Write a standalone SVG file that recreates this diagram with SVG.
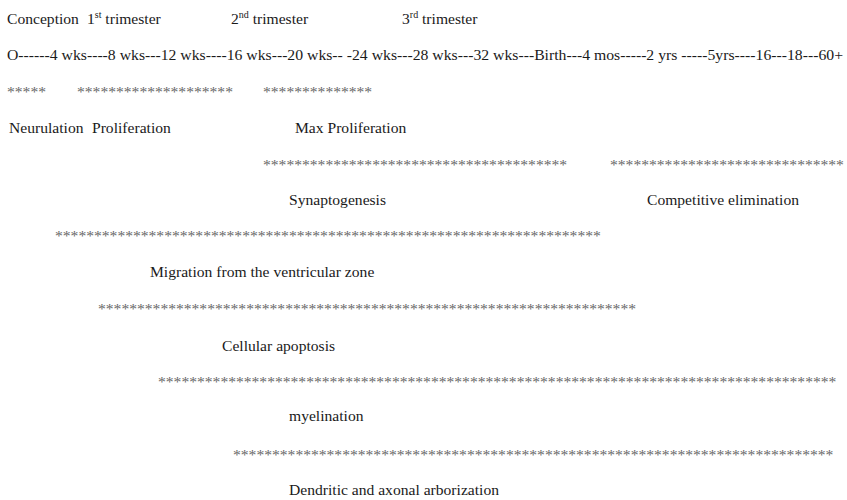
<svg xmlns="http://www.w3.org/2000/svg" width="847" height="500" viewBox="0 0 847 500">
<style>
text{font-family:"Liberation Serif","Times New Roman",serif;font-size:15.6px;fill:#1a1a1a}
.ast{fill:#666}
.sup{font-size:10px}
</style>
<rect width="847" height="500" fill="#fff"/>
<g id="header">
<text x="7" y="24">Conception</text>
<text x="87" y="24">1<tspan class="sup" dy="-6">st</tspan><tspan dy="6"> trimester</tspan></text>
<text x="231" y="24">2<tspan class="sup" dy="-6">nd</tspan><tspan dy="6"> trimester</tspan></text>
<text x="402" y="24">3<tspan class="sup" dy="-6">rd</tspan><tspan dy="6"> trimester</tspan></text>
<text x="7" y="60" textLength="836" lengthAdjust="spacingAndGlyphs">O------4 wks----8 wks---12 wks----16 wks---20 wks-- -24 wks---28 wks---32 wks---Birth---4 mos-----2 yrs -----5yrs----16---18---60+</text>
</g>
<g id="row1">
<text class="ast" x="7" y="97">*****</text>
<text class="ast" x="77" y="97">********************</text>
<text class="ast" x="263" y="97">**************</text>
<text x="9" y="133">Neurulation</text>
<text x="92" y="133">Proliferation</text>
<text x="295" y="133">Max Proliferation</text>
</g>
<g id="row2">
<text class="ast" x="263" y="170">***************************************</text>
<text class="ast" x="610" y="170">******************************</text>
<text x="289" y="205">Synaptogenesis</text>
<text x="647" y="205">Competitive elimination</text>
</g>
<g id="row3">
<text class="ast" x="55" y="241">**********************************************************************</text>
<text x="150" y="277">Migration from the ventricular zone</text>
</g>
<g id="row4">
<text class="ast" x="98" y="314">*********************************************************************</text>
<text x="222" y="351">Cellular apoptosis</text>
</g>
<g id="row5">
<text class="ast" x="158" y="387">***************************************************************************************</text>
<text x="289" y="421">myelination</text>
</g>
<g id="row6">
<text class="ast" x="233" y="460">*****************************************************************************</text>
<text x="289" y="495">Dendritic and axonal arborization</text>
</g>
</svg>
